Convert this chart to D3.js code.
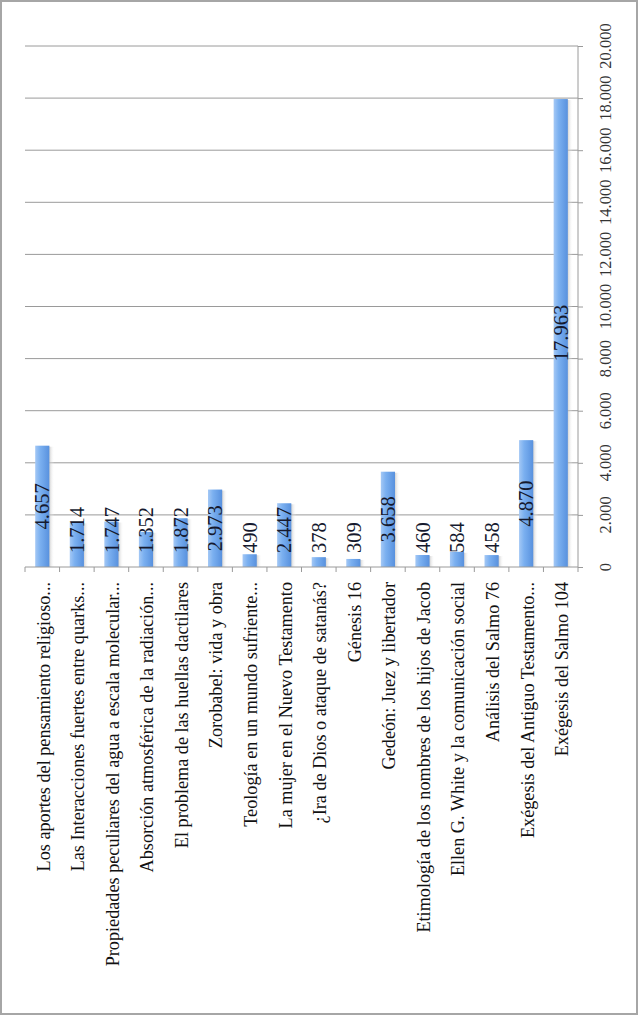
<!DOCTYPE html>
<html>
<head>
<meta charset="utf-8">
<script src="https://cdn.jsdelivr.net/npm/d3@7"></script>
<style>
  html, body { margin: 0; padding: 0; background: #fff; }
  svg { display: block; }
</style>
</head>
<body>
<svg id="chart" width="638" height="1015"></svg>
<script>
const categories = [
  "Los aportes del pensamiento religioso...",
  "Las Interacciones fuertes entre quarks...",
  "Propiedades peculiares del agua a escala molecular...",
  "Absorción atmosférica de la radiación...",
  "El problema de las huellas dactilares",
  "Zorobabel: vida y obra",
  "Teología en un mundo sufriente...",
  "La mujer en el Nuevo Testamento",
  "¿Ira de Dios o ataque de satanás?",
  "Génesis 16",
  "Gedeón: Juez y libertador",
  "Etimología de los nombres de los hijos de Jacob",
  "Ellen G. White y la comunicación social",
  "Análisis del Salmo 76",
  "Exégesis del Antiguo Testamento...",
  "Exégesis del Salmo 104"
];
const values = [4657, 1714, 1747, 1352, 1872, 2973, 490, 2447, 378, 309, 3658, 460, 584, 458, 4870, 17963];
const valueTicks = [0, 2000, 4000, 6000, 8000, 10000, 12000, 14000, 16000, 18000, 20000];

const svg = d3.select("#chart");
const W = 638, H = 1015;
const serif = "'Liberation Serif', 'Times New Roman', serif";

// outer frame
svg.append("rect").attr("x", 1).attr("y", 1).attr("width", W - 2).attr("height", H - 2)
  .attr("fill", "#fff").attr("stroke", "#a6a6a6").attr("stroke-width", 2);

const left = 25, right = 578, y0 = 567, yTop = 46;
const x = d3.scaleBand().domain(categories).range([left, right]).padding(0);
const y = d3.scaleLinear().domain([0, 20000]).range([y0, yTop]);

const loc = d3.formatLocale({decimal: ",", thousands: ".", grouping: [3], currency: ["", ""]});
const fmt = loc.format(",d");

// gradients
const defs = svg.append("defs");
const g1 = defs.append("linearGradient").attr("id", "barGrad").attr("x1", "0").attr("x2", "1").attr("y1", "0").attr("y2", "0");
g1.append("stop").attr("offset", "0%").attr("stop-color", "#a4c8f5");
g1.append("stop").attr("offset", "35%").attr("stop-color", "#7bb0f0");
g1.append("stop").attr("offset", "100%").attr("stop-color", "#5891de");
const g2 = defs.append("linearGradient").attr("id", "shadowGrad").attr("x1", "0").attr("x2", "1").attr("y1", "0").attr("y2", "0");
g2.append("stop").attr("offset", "0%").attr("stop-color", "#b0b0b0").attr("stop-opacity", 0.8);
g2.append("stop").attr("offset", "100%").attr("stop-color", "#ffffff").attr("stop-opacity", 0);

// gridlines
svg.append("g").selectAll("line").data(valueTicks.filter(d => d > 0)).join("line")
  .attr("x1", left).attr("x2", right)
  .attr("y1", d => y(d)).attr("y2", d => y(d))
  .attr("stroke", "#9a9a9a").attr("stroke-width", 1);

// bars
const barW = x.bandwidth() * 0.41;
const bars = svg.append("g");
bars.selectAll("rect.sh").data(values).join("rect").attr("class", "sh")
  .attr("x", (d, i) => x(categories[i]) + x.bandwidth() / 2 + barW / 2 - 1)
  .attr("y", d => y(d) + 1)
  .attr("width", 6)
  .attr("height", d => y0 - y(d) - 1)
  .attr("fill", "url(#shadowGrad)");
bars.selectAll("rect.bar").data(values).join("rect").attr("class", "bar")
  .attr("x", (d, i) => x(categories[i]) + x.bandwidth() / 2 - barW / 2)
  .attr("y", d => y(d))
  .attr("width", barW)
  .attr("height", d => y0 - y(d))
  .attr("fill", "url(#barGrad)");

// value axis (right)
const axR = svg.append("g").attr("transform", `translate(${right},0)`)
  .call(d3.axisRight(y).tickValues(valueTicks).tickSize(5).tickFormat(""));
axR.select(".domain").attr("stroke", "#9a9a9a").attr("d", `M0,${y0}V${yTop}`);
axR.selectAll(".tick line").attr("stroke", "#9a9a9a");

svg.append("g").selectAll("text").data(valueTicks).join("text")
  .attr("transform", d => `translate(605,${y(d)}) rotate(-90)`)
  .attr("text-anchor", "middle").attr("dy", "0.35em")
  .attr("font-family", serif).attr("font-size", 16.5).attr("fill", "#333")
  .text(d => fmt(d));

// category axis
svg.append("line").attr("x1", left).attr("x2", right).attr("y1", y0).attr("y2", y0)
  .attr("stroke", "#9a9a9a");
const bounds = categories.map(c => x(c)).concat([right]);
svg.append("g").selectAll("line").data(bounds).join("line")
  .attr("x1", d => d).attr("x2", d => d).attr("y1", y0).attr("y2", y0 + 5)
  .attr("stroke", "#9a9a9a");

svg.append("g").selectAll("text").data(categories).join("text")
  .attr("transform", d => `translate(${x(d) + x.bandwidth() / 2 + 1},582) rotate(-90)`)
  .attr("text-anchor", "end").attr("dy", "0.35em")
  .attr("font-family", serif).attr("font-size", 18.2).attr("fill", "#111")
  .text(d => d);

// value labels
const vl = svg.append("g").selectAll("text").data(values).join("text")
  .attr("text-anchor", "middle").attr("dy", "0.35em")
  .attr("font-family", serif).attr("font-size", 20.5).attr("fill", "#15192e")
  .text(d => fmt(d));
vl.each(function(d, i) {
  const len = this.getComputedTextLength();
  const mid = (y(d) + y0) / 2;
  const cy = Math.min(mid, y0 - 14 - len / 2);
  d3.select(this).attr("transform", `translate(${x(categories[i]) + x.bandwidth() / 2},${cy}) rotate(-90)`);
});
</script>
</body>
</html>
